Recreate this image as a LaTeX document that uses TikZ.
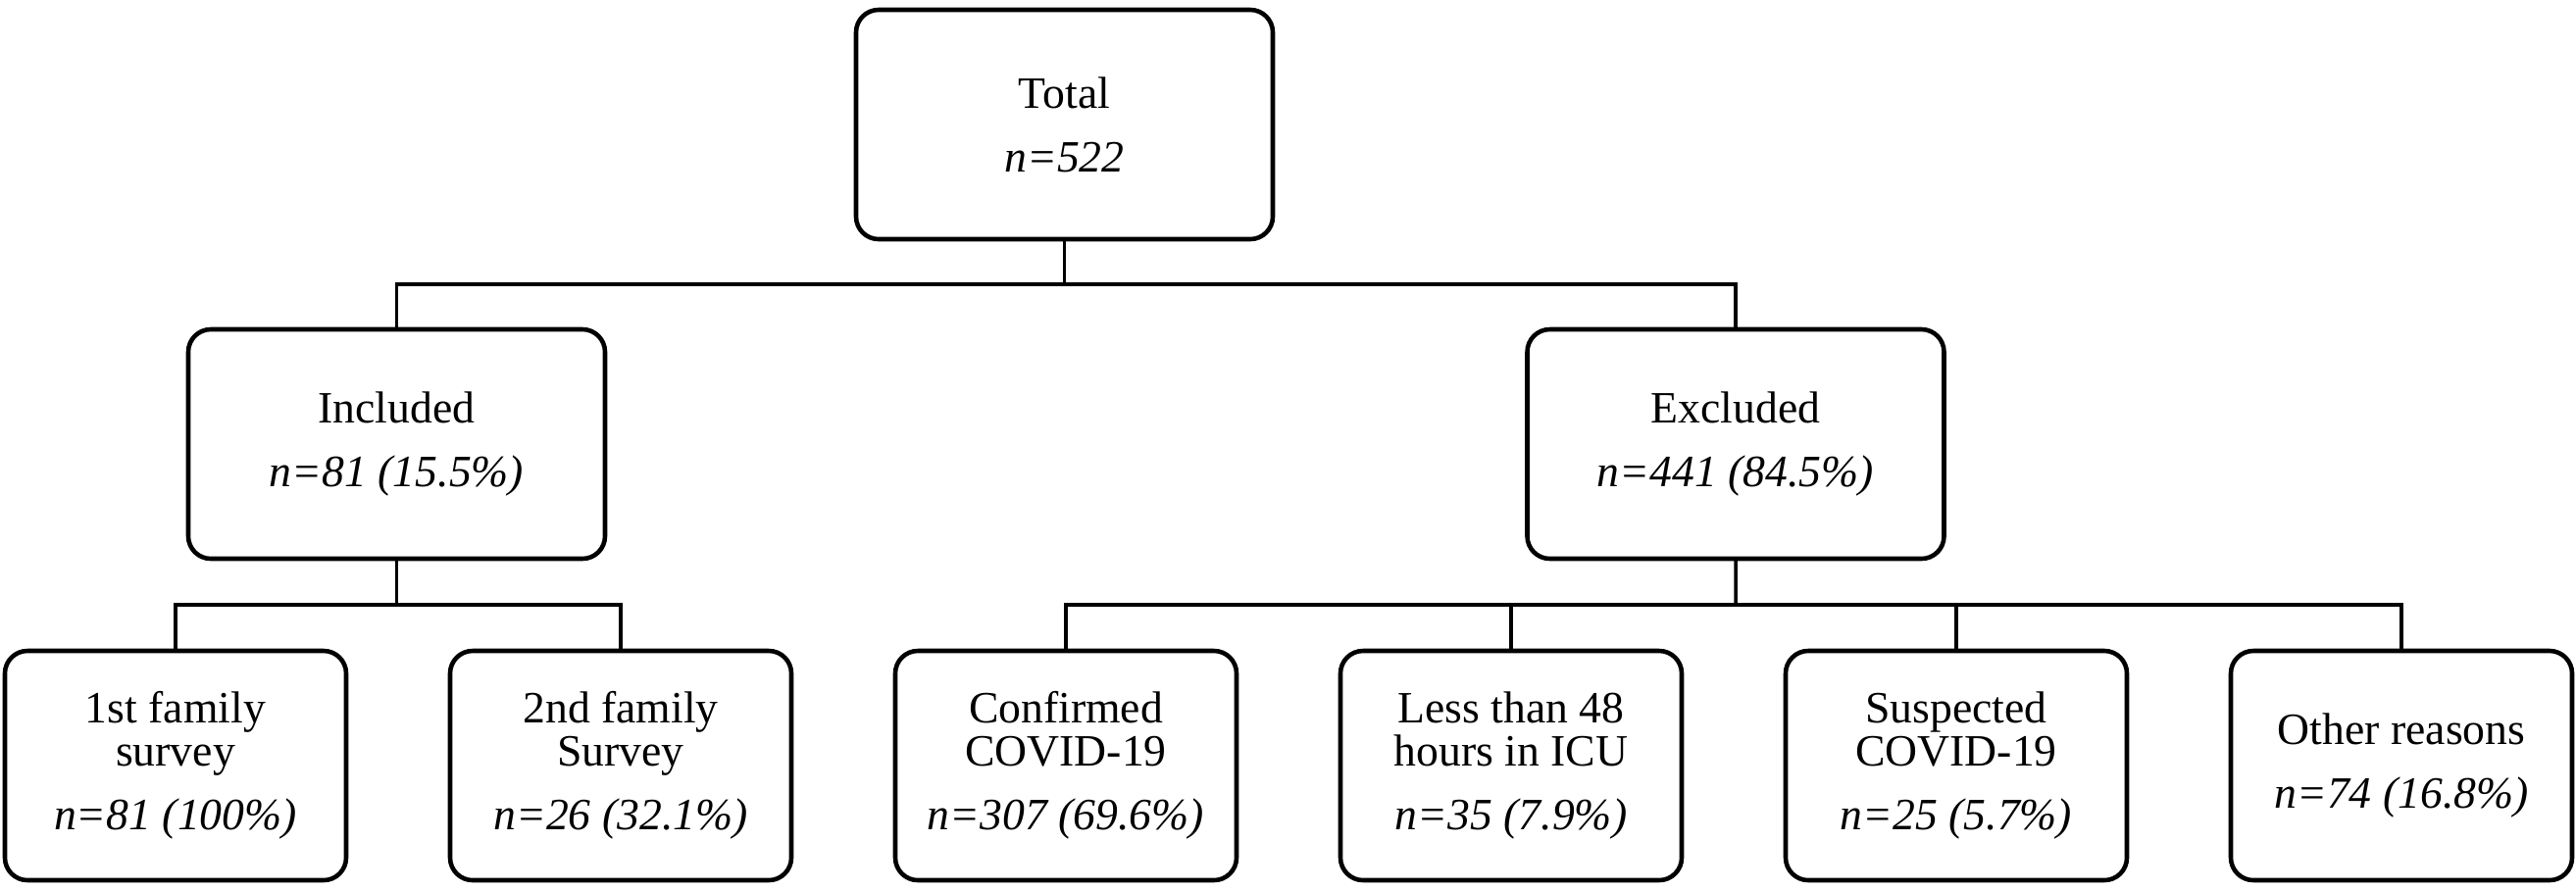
\documentclass[tikz,border=0pt]{standalone}
\usepackage{fontspec}
\setmainfont{Liberation Serif}
\usepackage{tikz}
\usetikzlibrary{calc}
\usetikzlibrary{positioning}

\begin{document}
\begin{tikzpicture}[node distance=1cm]
    % Define block styles
    \tikzstyle{bigbox} = [rectangle, rounded corners=0.23cm, minimum width=4.25cm, minimum height=2.34cm, align=center, draw=black, line width=1.3pt, outer sep=0pt, font=\fontsize{13}{12.5}\selectfont]
    \tikzstyle{smallbox} = [bigbox, minimum width=3.48cm]
    \tikzstyle{connector} = [line width=1pt]

    \useasboundingbox (0,0) rectangle (26.27,-9.08);

    % Nodes
    \node (total) [bigbox] at (10.855,-1.27) {Total\\[6pt]\textit{n=522}};
    \node (included) [bigbox, below=0.92cm of total, xshift=-6.81cm] {Included\\[6pt]\textit{n=81 (15.5\%)}};
    \node (excluded) [bigbox, below=0.92cm of total, xshift=6.845cm] {Excluded\\[6pt]\textit{n=441 (84.5\%)}};

    \node (first) [smallbox, below=0.94cm of included, xshift=-2.255cm] {1st family\\survey\\[6pt]\textit{n=81 (100\%)}};
    \node (second) [smallbox, right=1.06cm of first] {2nd family\\Survey\\[6pt]\textit{n=26 (32.1\%)}};
    \node (confirmed) [smallbox, right=1.06cm of second] {Confirmed\\COVID-19\\[6pt]\textit{n=307 (69.6\%)}};
    \node (less) [smallbox, right=1.06cm of confirmed] {Less than 48\\hours in ICU\\[6pt]\textit{n=35 (7.9\%)}};
    \node (suspected) [smallbox, right=1.06cm of less] {Suspected\\COVID-19\\[6pt]\textit{n=25 (5.7\%)}};
    \node (other) [smallbox, right=1.06cm of suspected] {Other reasons\\[6pt]\textit{n=74 (16.8\%)}};

    % Split points
    \coordinate (split0) at ($(total.south)!0.5!(total.south |- included.north)$);
    \coordinate (split1) at ($(included.south)!0.5!(included.south |- first.north)$);
    \coordinate (split2) at ($(excluded.south)!0.5!(excluded.south |- confirmed.north)$);

    % Lines between nodes
    \draw [connector] (total.south) -- (split0);
    \draw [connector] (included.north) |- (split0) -| (excluded.north);
    \draw [connector] (included.south) -- (split1);
    \draw [connector] (first.north) |- (split1) -| (second.north);
    \draw [connector] (excluded.south) -- (split2);
    \draw [connector] (confirmed.north) |- (split2) -| (other.north);
    \draw [connector] (less.north) -- (less.north |- split2);
    \draw [connector] (suspected.north) -- (suspected.north |- split2);
\end{tikzpicture}
\end{document}
